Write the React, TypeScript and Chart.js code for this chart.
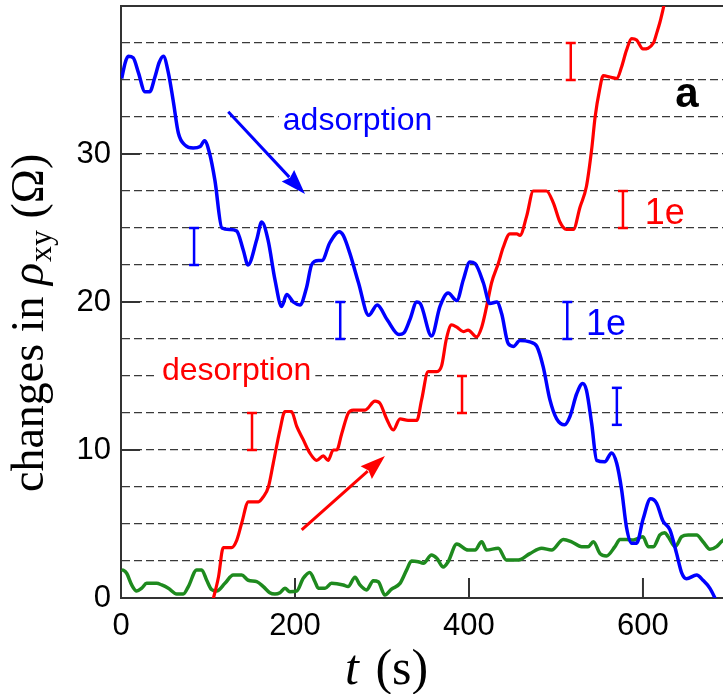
import React, { useEffect, useRef } from 'react';
import { Chart, registerables } from 'chart.js';
Chart.register(...registerables);

// ---------- data ----------
const blueT = [0.8, 5, 8.4, 14, 20, 27.6, 33, 39, 44, 48.7, 54.4, 60, 66, 73.6, 83, 91, 96, 102, 108, 116, 125, 133, 140.6, 146, 156, 161.7, 169, 177, 184.7, 190.5, 198, 205.7, 213.4, 219, 227, 231, 240, 251, 255.5, 263, 273, 284.7, 294.5, 306, 319.5, 325, 332, 340, 344, 357, 366.7, 376, 386, 393.5, 401, 407, 416.5, 424, 432, 437.6, 445, 451, 458.6, 470, 478, 485.4, 493, 500.8, 510, 516, 523.8, 530.7, 535, 541, 546.8, 556, 564, 569.8, 575.5, 581, 587, 592.7, 600, 608.8, 615.7, 623, 631, 638.7, 644.5, 650, 661.7, 669, 677, 682.7, 687];
const blueV = [35.1, 36.2, 36.6, 36.5, 35.5, 34.2, 34.2, 35.2, 36.2, 36.6, 35.5, 33.6, 31.4, 30.6, 30.4, 30.5, 30.9, 30.0, 28.2, 25.0, 24.9, 24.8, 23.5, 22.5, 24.2, 25.4, 24.2, 21.5, 19.7, 20.5, 20.0, 19.8, 21.0, 22.5, 22.8, 22.8, 24.0, 24.75, 24.5, 23.3, 21.3, 19.1, 19.8, 18.8, 17.8, 17.9, 18.8, 20.0, 19.9, 17.7, 19.7, 20.6, 20.1, 21.5, 22.7, 22.6, 21.3, 19.9, 20.0, 19.2, 17.2, 17.0, 17.4, 17.3, 17.0, 15.6, 13.4, 12.1, 11.7, 12.25, 13.8, 14.5, 14.05, 11.8, 9.3, 9.2, 9.8, 9.1, 7.3, 4.8, 3.7, 3.7, 5.3, 6.7, 6.4, 5.2, 4.6, 3.0, 1.7, 1.3, 1.55, 1.2, 0.65, 0, -0.6];

const redT = [105, 112, 117.6, 127, 133, 138.7, 146.4, 158, 163.8, 169.4, 175, 182.7, 188.5, 196, 202, 209.5, 217, 225, 232.5, 238, 244, 248, 253.7, 261.3, 267, 280.5, 292, 297.7, 305.4, 313, 320.7, 330, 340, 345.6, 353, 363, 368.6, 374, 380, 386, 393.5, 399, 408.8, 414.6, 420.3, 426, 433.7, 439.4, 447, 455, 458.6, 466.3, 474, 489, 497, 504.6, 512, 520, 527.6, 535, 541, 545, 550, 554.4, 562, 570, 575.5, 581, 587, 592.7, 600, 612, 615.7, 619.5, 624, 628];
const redV = [-0.3, 1.4, 3.4, 3.4, 3.9, 5.05, 6.5, 6.5, 6.85, 7.5, 9.1, 11.35, 12.6, 12.6, 11.6, 10.7, 9.8, 9.3, 9.6, 9.3, 10.0, 10.0, 11.1, 12.5, 12.7, 12.7, 13.3, 13.15, 12.1, 11.35, 12.1, 12.0, 12.0, 13.4, 15.3, 15.3, 15.7, 17.5, 18.45, 18.3, 18.0, 18.1, 17.65, 18.3, 19.7, 21.3, 22.6, 23.7, 24.6, 24.6, 24.5, 25.8, 27.5, 27.5, 26.7, 25.4, 24.9, 24.9, 26.4, 27.8, 30.3, 32.5, 34.3, 35.3, 35.2, 35.1, 35.9, 37.0, 37.8, 37.7, 37.1, 37.5, 38.15, 38.9, 40, 41];

const greenT = [0.8, 6.5, 12.3, 18, 23.8, 29.5, 41, 46.8, 54.4, 64, 71.6, 77.4, 87, 92.7, 98.5, 104, 110, 119.5, 129, 138.7, 146.3, 156, 163.6, 171, 177, 182.7, 188.5, 194, 202, 209.5, 217, 223, 226.8, 234.5, 242, 255.5, 261, 269, 274.7, 282.4, 290, 295.7, 303.4, 311, 320.7, 328.4, 334, 341.7, 347.5, 357, 363, 370.5, 376, 386, 399, 407, 414.6, 420.3, 433.7, 443, 456.7, 470, 483.5, 495, 508.4, 518, 529.5, 537, 543, 550.6, 558, 567.8, 573.6, 581, 589, 600, 606, 612, 619.5, 625, 629, 637, 644.5, 652, 661.7, 669, 677, 684.6, 690, 694];
const greenV = [1.94, 1.67, 0.88, 0.47, 0.66, 0.99, 0.99, 0.88, 0.66, 0.27, 0.27, 0.77, 1.9, 1.9, 1.2, 0.58, 0.47, 0.99, 1.55, 1.55, 1.2, 1.1, 0.77, 0.36, 0.27, 0.36, 0.66, 0.43, 0.47, 1.33, 1.73, 1.1, 0.66, 0.66, 0.99, 0.88, 0.77, 1.4, 0.88, 0.54, 1.17, 1.1, 0.2, 0.6, 0.99, 1.9, 2.5, 2.45, 2.35, 2.9, 2.68, 2.1, 2.45, 3.65, 3.24, 3.24, 3.8, 3.24, 3.36, 2.57, 2.57, 3.0, 3.36, 3.24, 3.96, 3.8, 3.47, 3.47, 3.8, 3.0, 2.84, 3.47, 3.96, 3.96, 3.92, 4.14, 3.47, 3.47, 4.26, 4.41, 4.14, 3.47, 4.14, 4.26, 4.26, 3.8, 3.29, 3.47, 3.8, 4.0];

// error bars (one electron charge steps)
const blueErrT = [84, 252, 513, 570];
const blueErrLo = [22.5, 17.5, 17.5, 11.7];
const blueErrHi = [25, 20, 20, 14.2];
const redErrT = [150.6, 392, 517, 577];
const redErrLo = [10, 12.5, 35, 25];
const redErrHi = [12.5, 15, 37.5, 27.5];

// arrows
const arrowFromT = [123.3, 207.7];
const arrowFromV = [32.86, 4.6];
const arrowToT = [211.5, 303.4];
const arrowToV = [27.3, 9.6];

// axes
const xTickLabels = [0, 200, 400, 600];
const yTickLabels = [0, 10, 20, 30];
const xInnerTicks = [200, 400, 600];
const yInnerTicks = [10, 20, 30];

// annotation texts
const noteTexts = ['adsorption', 'desorption', 'a', '1e', '1e'];
const noteT = [186, 47, 637, 602, 534.5];
const noteV = [31.6, 14.7, 33.2, 25.3, 17.8];

const BLUE = '#0000ff';
const RED = '#ff0000';
const GREEN = '#1e8a1e';
const AXIS = '#333333';
const SANS = '"Liberation Sans", Arial, sans-serif';
const SERIF = '"Liberation Serif", "Times New Roman", serif';

const noteStyles = [
  { color: BLUE, font: `32px ${SANS}`, bg: true },
  { color: RED, font: `32px ${SANS}`, bg: true },
  { color: '#000', font: `bold 42px ${SANS}`, bg: false },
  { color: RED, font: `36px ${SANS}`, bg: false },
  { color: BLUE, font: `36px ${SANS}`, bg: false },
];

const pts = (t: number[], v: number[]) => t.map((x, i) => ({ x, y: v[i] }));
const errPts = (t: number[], lo: number[], hi: number[]) => {
  const out: any[] = [];
  t.forEach((x, i) => {
    out.push({ x, y: lo[i] }, { x, y: hi[i] }, { x, y: null });
  });
  return out;
};

const decorPlugin = {
  id: 'decor',
  beforeDatasetsDraw(chart: any) {
    const { ctx, chartArea: a, scales } = chart;
    const xs = scales.x, ys = scales.y;
    ctx.save();
    ctx.strokeStyle = AXIS;
    ctx.lineWidth = 2;
    // top frame line
    ctx.beginPath();
    ctx.moveTo(a.left, a.top);
    ctx.lineTo(a.right, a.top);
    ctx.stroke();
    // inner ticks
    yInnerTicks.forEach((v) => {
      const y = ys.getPixelForValue(v);
      ctx.beginPath();
      ctx.moveTo(a.left, y);
      ctx.lineTo(a.left + 19, y);
      ctx.stroke();
    });
    xInnerTicks.forEach((v) => {
      const x = xs.getPixelForValue(v);
      ctx.beginPath();
      ctx.moveTo(x, a.bottom);
      ctx.lineTo(x, a.bottom - 20);
      ctx.stroke();
    });
    // annotations
    ctx.textBaseline = 'alphabetic';
    ctx.textAlign = 'left';
    noteTexts.forEach((txt, i) => {
      const st = noteStyles[i];
      const x = xs.getPixelForValue(noteT[i]);
      const y = ys.getPixelForValue(noteV[i]);
      ctx.font = st.font;
      const w = ctx.measureText(txt).width;
      if (st.bg) {
        ctx.fillStyle = '#fff';
        ctx.fillRect(x - 4, y - 28, w + 8, 36);
      }
      ctx.fillStyle = st.color;
      ctx.fillText(txt, x, y);
    });
    ctx.restore();
  },
  afterDatasetsDraw(chart: any) {
    const { ctx, scales } = chart;
    const xs = scales.x, ys = scales.y;
    const colors = [BLUE, RED];
    ctx.save();
    arrowFromT.forEach((_, i) => {
      const sx = xs.getPixelForValue(arrowFromT[i]);
      const sy = ys.getPixelForValue(arrowFromV[i]);
      const ex = xs.getPixelForValue(arrowToT[i]);
      const ey = ys.getPixelForValue(arrowToV[i]);
      const ang = Math.atan2(ey - sy, ex - sx);
      const L = 25, W = 8.5;
      const bx = ex - L * Math.cos(ang), by = ey - L * Math.sin(ang);
      ctx.strokeStyle = colors[i];
      ctx.fillStyle = colors[i];
      ctx.lineWidth = 3;
      ctx.beginPath();
      ctx.moveTo(sx, sy);
      ctx.lineTo(bx + 2 * Math.cos(ang), by + 2 * Math.sin(ang));
      ctx.stroke();
      ctx.beginPath();
      ctx.moveTo(ex, ey);
      ctx.lineTo(bx - W * Math.sin(ang), by + W * Math.cos(ang));
      ctx.lineTo(bx + 3 * Math.cos(ang), by + 3 * Math.sin(ang));
      ctx.lineTo(bx + W * Math.sin(ang), by - W * Math.cos(ang));
      ctx.closePath();
      ctx.fill();
    });
    ctx.restore();
  },
  afterDraw(chart: any) {
    const { ctx } = chart;
    ctx.save();
    ctx.fillStyle = '#000';
    ctx.textBaseline = 'alphabetic';
    ctx.textAlign = 'left';
    // y title
    ctx.translate(43, 492);
    ctx.rotate(-Math.PI / 2);
    let x = 0;
    ctx.font = `46px ${SERIF}`;
    ctx.fillText('changes in ', x, 0);
    x += ctx.measureText('changes in ').width;
    ctx.font = `italic 46px ${SERIF}`;
    ctx.fillText('\u03c1', x, 0);
    x += ctx.measureText('\u03c1').width + 1;
    ctx.font = `32px ${SERIF}`;
    ctx.fillText('xy', x, 8);
    x += ctx.measureText('xy').width;
    ctx.font = `46px ${SERIF}`;
    ctx.fillText(' (\u03a9)', x, 0);
    ctx.restore();
    // x title
    ctx.save();
    ctx.fillStyle = '#000';
    ctx.textBaseline = 'alphabetic';
    ctx.textAlign = 'left';
    let tx = 345;
    const by = 684;
    ctx.font = `italic 50px ${SERIF}`;
    ctx.fillText('t', tx, by);
    tx += ctx.measureText('t').width;
    ctx.font = `50px ${SERIF}`;
    ctx.fillText(' (s)', tx + 4, by);
    ctx.restore();
  },
};

export default function App() {
  const ref = useRef<HTMLCanvasElement>(null);
  useEffect(() => {
    const canvas = ref.current;
    if (!canvas) return;
    const chart = new Chart(canvas, {
      type: 'line',
      data: {
        datasets: [
          { label: 'adsorption', data: pts(blueT, blueV), borderColor: BLUE, borderWidth: 3.5, pointRadius: 0, cubicInterpolationMode: 'monotone', order: 1 },
          { label: 'desorption', data: pts(redT, redV), borderColor: RED, borderWidth: 3.2, pointRadius: 0, cubicInterpolationMode: 'monotone', order: 2 },
          { label: 'reference', data: pts(greenT, greenV), borderColor: GREEN, borderWidth: 3.5, pointRadius: 0, cubicInterpolationMode: 'monotone', order: 3 },
          { label: 'blue 1e', data: errPts(blueErrT, blueErrLo, blueErrHi), borderColor: BLUE, borderWidth: 2.5, pointStyle: 'line', pointRadius: 5, pointBorderWidth: 2.5, pointBorderColor: BLUE, spanGaps: false, order: 4 },
          { label: 'red 1e', data: errPts(redErrT, redErrLo, redErrHi), borderColor: RED, borderWidth: 2.5, pointStyle: 'line', pointRadius: 5, pointBorderWidth: 2.5, pointBorderColor: RED, spanGaps: false, order: 5 },
        ] as any,
      },
      options: {
        responsive: false,
        animation: false,
        devicePixelRatio: 1,
        layout: { autoPadding: false, padding: { top: 6, right: 0, left: 0, bottom: 0 } },
        plugins: { legend: { display: false }, tooltip: { enabled: false } },
        scales: {
          x: {
            type: 'linear',
            min: 0,
            max: 692,
            afterFit: (s: any) => { s.height = 96; s.paddingLeft = 0; s.paddingRight = 0; },
            grid: { display: false, drawTicks: false },
            border: { display: true, color: AXIS, width: 2 },
            ticks: {
              stepSize: 200,
              autoSkip: false,
              maxRotation: 0,
              padding: 10,
              color: '#000',
              font: { family: SANS, size: 31 },
              callback: (v: any) => (xTickLabels.includes(v) ? String(v) : null),
            },
          },
          y: {
            min: 0,
            max: 40,
            afterFit: (s: any) => { s.width = 121; s.paddingTop = 0; s.paddingBottom = 0; },
            grid: {
              drawTicks: false,
              lineWidth: 1.3,
              color: (c: any) => (c.tick && (c.tick.value === 0 || c.tick.value === 40) ? 'rgba(0,0,0,0)' : '#3a3a3a'),
            },
            border: { display: true, color: AXIS, width: 2, dash: [8, 4] },
            ticks: {
              stepSize: 2.5,
              autoSkip: false,
              padding: 10,
              color: '#000',
              font: { family: SANS, size: 31 },
              callback: (v: any) => (v >= 40 ? null : yTickLabels.includes(v) ? String(v) : ''),
            },
          },
        },
      } as any,
      plugins: [decorPlugin],
    });
    return () => chart.destroy();
  }, []);
  return (
    <div style={{ position: 'absolute', left: 0, top: 0, width: 723, height: 694, background: '#fff' }}>
      <canvas ref={ref} width={723} height={694} style={{ display: 'block', width: 723, height: 694 }} />
    </div>
  );
}
